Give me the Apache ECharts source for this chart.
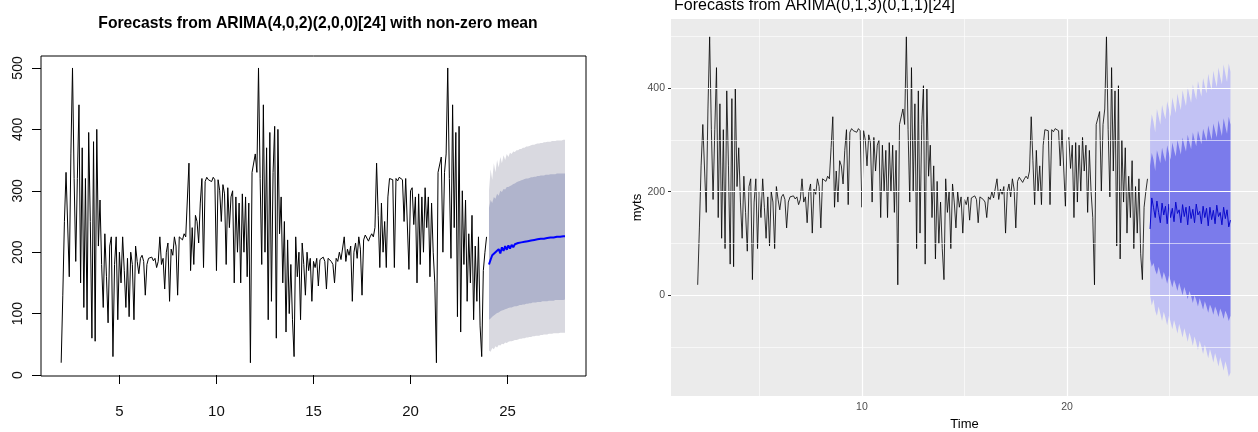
<!DOCTYPE html>
<html>
<head>
<meta charset="utf-8">
<script src="https://cdn.jsdelivr.net/npm/echarts@6/dist/echarts.min.js"></script>
<style>
  html, body { margin: 0; padding: 0; background: #fff; }
  #chart { width: 1258px; height: 432px; }
</style>
</head>
<body>
<div id="chart"></div>
<script>
// observed series, one value every 1/12, starting at t = 2
var obsStart = 2, obsStep = 1 / 12;
var obs = [
  20, 130, 250, 330, 330, 160, 360, 500, 320, 185, 320, 440,
  150, 370, 110, 320, 90, 395, 250, 60, 380, 55, 400, 210,
  285, 180, 110, 230, 160, 85, 210, 225, 30, 180, 225, 90,
  200, 150, 225, 170, 110, 190, 95, 200, 180, 90, 210, 185,
  165, 190, 195, 185, 130, 180, 190, 188, 192, 186, 190, 175,
  185, 225, 180, 190, 140, 200, 215, 120, 205, 195, 225, 210,
  130, 225, 225, 220, 230, 225, 285, 345, 170, 240, 180, 260,
  250, 215, 280, 320, 175, 315, 322, 318, 320, 315, 322, 318,
  170, 318, 300, 250, 310, 295, 180, 305, 240, 290, 300, 150,
  290, 200, 280, 150, 295, 200, 290, 160, 280, 20, 330, 330,
  360, 330, 500, 320, 180, 440, 200, 370, 90, 395, 120, 330,
  405, 60, 400, 230, 290, 150, 250, 70, 220, 100, 180, 90,
  30, 225, 160, 200, 90, 215, 180, 130, 200, 170, 190, 120,
  185, 175, 190, 145, 188, 186, 192, 185, 140, 190, 188, 185,
  180, 150, 190, 185, 200, 188, 190, 225, 185, 205, 195, 210,
  120, 200, 215, 190, 225, 205, 130, 220, 228, 225, 218, 225,
  230, 225, 240, 345, 260, 175, 280, 200, 250, 175, 290, 320,
  322, 318, 175, 320, 316, 322, 320, 318, 250, 320, 318, 172,
  300, 305, 245, 290, 150, 295, 180, 290, 200, 305, 240, 290,
  160, 280, 200, 150, 20, 330, 330, 355, 200, 330, 360, 500,
  320, 190, 440, 240, 395, 95, 405, 70, 300, 180, 285, 120,
  230, 150, 260, 90, 210, 120, 225, 80, 30, 170, 200, 225
];

// forecasts
var fcStart = 24 + 1 / 24, fcStep = 1 / 12;

// left: ARIMA(4,0,2)(2,0,0)[24] with non-zero mean
var lMean = [180, 188, 195, 192, 200, 197, 205, 198, 208, 202, 210, 204,
  211, 206, 212, 208, 213, 212, 215, 213, 216, 215, 217, 216,
  218, 218, 219, 219, 220, 220, 221, 221, 222, 222, 222, 223,
  223, 223, 224, 224, 224, 224, 225, 225, 225, 225, 226, 226];
var l80Up = [272, 285, 280, 290, 287, 295, 292, 300, 298, 303, 302, 306,
  306, 308, 309, 311, 312, 314, 315, 316, 317, 318, 319, 320,
  320, 321, 322, 322, 323, 323, 324, 324, 325, 325, 325, 326,
  326, 326, 327, 327, 327, 327, 328, 328, 328, 328, 328, 328];
var l80Lo = [90, 92, 95, 97, 99, 101, 102, 104, 105, 106, 107, 108,
  109, 110, 110, 111, 112, 112, 113, 114, 114, 115, 115, 116,
  116, 117, 117, 118, 118, 118, 119, 119, 119, 120, 120, 120,
  120, 121, 121, 121, 121, 122, 122, 122, 122, 122, 122, 123];
var l95Up = [300, 335, 318, 345, 330, 350, 338, 355, 345, 358, 350, 360,
  355, 362, 360, 364, 363, 366, 366, 368, 368, 370, 370, 372,
  372, 373, 374, 375, 375, 376, 377, 377, 378, 378, 379, 379,
  380, 380, 380, 381, 381, 381, 382, 382, 382, 382, 383, 383];
var l95Lo = [40, 38, 44, 42, 47, 45, 49, 48, 51, 50, 53, 52,
  54, 55, 55, 56, 57, 57, 58, 59, 59, 60, 60, 61,
  61, 62, 62, 63, 63, 64, 64, 64, 65, 65, 66, 66,
  66, 67, 67, 67, 68, 68, 68, 68, 69, 69, 69, 69];

// right: ARIMA(0,1,3)(0,1,1)[24]
var rMean = [128, 188, 170, 150, 182, 160, 140, 178, 155, 172, 138, 176,
  150, 168, 142, 180, 158, 165, 140, 175, 152, 170, 136, 172,
  148, 166, 140, 176, 155, 162, 138, 172, 150, 168, 134, 170,
  146, 164, 138, 174, 152, 160, 136, 170, 148, 165, 132, 145];
var r80Up = [250, 275, 262, 240, 280, 268, 255, 285, 270, 258, 290, 275,
  262, 295, 280, 268, 300, 285, 272, 305, 290, 278, 310, 295,
  282, 315, 300, 288, 318, 305, 292, 322, 310, 298, 328, 314,
  300, 332, 318, 305, 338, 322, 308, 342, 326, 312, 345, 330];
var r80Lo = [70, 55, 62, 48, 40, 55, 42, 30, 45, 35, 22, 38,
  28, 15, 30, 20, 8, 24, 12, 0, 16, 5, -8, 8,
  -2, -15, 0, -10, -22, -6, -16, -28, -12, -22, -34, -18,
  -26, -38, -22, -30, -42, -26, -34, -46, -30, -38, -50, -40];
var r95Up = [320, 350, 335, 315, 360, 345, 330, 368, 352, 340, 375, 360,
  345, 382, 366, 352, 390, 372, 358, 396, 380, 366, 402, 386,
  372, 408, 392, 378, 414, 398, 384, 420, 404, 390, 428, 410,
  396, 434, 416, 402, 440, 422, 408, 446, 428, 412, 448, 432];
var r95Lo = [0, -20, -8, -30, -40, -22, -36, -50, -32, -44, -58, -40,
  -52, -66, -48, -60, -74, -56, -68, -82, -64, -76, -90, -72,
  -84, -98, -80, -92, -106, -88, -100, -114, -96, -108, -122, -104,
  -116, -130, -112, -124, -138, -120, -132, -146, -128, -140, -158, -150];

// axis ticks
var lxTicks = [5, 10, 15, 20, 25];
var lyTicks = [0, 100, 200, 300, 400, 500];
var rxTicks = [10, 20];
var ryTicks = [0, 200, 400];
var rxMinor = [5, 15, 25];
var ryMinor = [-100, 100, 300, 500];

function pairs(start, step, arr) {
  return arr.map(function (v, i) { return [start + i * step, v]; });
}

var chart = echarts.init(document.getElementById('chart'));

// prediction band as one polygon, mapped through the axes with api.coord
function band(lo, hi, color, xi) {
  var rows = lo.map(function (v, i) { return [fcStart + i * fcStep, v, hi[i]]; });
  return {
    type: 'custom', xAxisIndex: xi, yAxisIndex: xi, silent: true, z: 2,
    encode: { x: 0, y: [1, 2] },
    data: rows,
    renderItem: function (params, api) {
      if (params.dataIndex !== 0) return null;
      var top = rows.map(function (r) { return api.coord([r[0], r[2]]); });
      var bot = rows.map(function (r) { return api.coord([r[0], r[1]]); }).reverse();
      return {
        type: 'polygon',
        shape: { points: top.concat(bot) },
        style: { fill: color, stroke: null }
      };
    }
  };
}

var leftFont = "'Liberation Sans', Arial, sans-serif";
var rightFont = "'Liberation Sans', Arial, sans-serif";

function gl(key, v, w) {
  var o = { lineStyle: { color: '#fff', width: w, type: 'solid' } };
  o[key] = v;
  return o;
}

var series = [];
// right chart grid lines
series.push({
  type: 'line', xAxisIndex: 1, yAxisIndex: 1, data: [], z: 1, silent: true,
  markLine: {
    silent: true, symbol: 'none', label: { show: false }, animation: false,
    data: []
      .concat(rxMinor.map(function (v) { return gl('xAxis', v, 0.6); }))
      .concat(ryMinor.map(function (v) { return gl('yAxis', v, 0.6); }))
      .concat(rxTicks.map(function (v) { return gl('xAxis', v, 1.2); }))
      .concat(ryTicks.map(function (v) { return gl('yAxis', v, 1.2); }))
  }
});
series.push(band(l95Lo, l95Up, '#D9D9E0', 0));
series.push(band(l80Lo, l80Up, '#B0B4CC', 0));
series.push(band(r95Lo, r95Up, '#C2C2F4', 1));
series.push(band(r80Lo, r80Up, '#7B7BEB', 1));
series.push({
  type: 'line', xAxisIndex: 0, yAxisIndex: 0, symbol: 'none', z: 4,
  lineStyle: { color: '#000', width: 1 }, data: pairs(obsStart, obsStep, obs)
});
series.push({
  type: 'line', xAxisIndex: 0, yAxisIndex: 0, symbol: 'none', z: 4,
  lineStyle: { color: '#0000FF', width: 2 }, data: pairs(fcStart, fcStep, lMean)
});
series.push({
  type: 'line', xAxisIndex: 1, yAxisIndex: 1, symbol: 'none', z: 4,
  lineStyle: { color: '#000', width: 0.8 }, data: pairs(obsStart, obsStep, obs)
});
series.push({
  type: 'line', xAxisIndex: 1, yAxisIndex: 1, symbol: 'none', z: 4,
  lineStyle: { color: '#0A0ACC', width: 1 }, data: pairs(fcStart, fcStep, rMean)
});

chart.setOption({
  animation: false,
  backgroundColor: '#fff',
  title: [{
    text: 'Forecasts from ARIMA(4,0,2)(2,0,0)[24] with non-zero mean',
    left: 313, top: 11, textAlign: 'center',
    textStyle: { fontFamily: leftFont, fontSize: 15.7, fontWeight: 'bold', color: '#000' }
  }, {
    text: 'Forecasts from ARIMA(0,1,3)(0,1,1)[24]',
    left: 669, top: -7,
    textStyle: { fontFamily: rightFont, fontSize: 16, fontWeight: 'normal', color: '#000' }
  }],
  grid: [{
    left: 41, top: 56, width: 545, height: 320, outerBoundsMode: 'none',
    show: true, borderColor: '#000', borderWidth: 1, backgroundColor: '#fff'
  }, {
    left: 671, top: 19, width: 587, height: 377, outerBoundsMode: 'none',
    show: true, borderWidth: 0, backgroundColor: '#EBEBEB'
  }],
  xAxis: [{
    type: 'value', gridIndex: 0, min: 0.96, max: 29.04,
    axisLine: { show: false }, splitLine: { show: false },
    axisTick: { show: true, customValues: lxTicks, length: 9, lineStyle: { color: '#000' } },
    axisLabel: { customValues: lxTicks, margin: 28, color: '#111', fontSize: 15, fontFamily: leftFont }
  }, {
    type: 'value', gridIndex: 1, min: 0.7, max: 29.3,
    name: 'Time', nameLocation: 'middle', nameGap: 20,
    nameTextStyle: { color: '#000', fontSize: 13, fontFamily: rightFont },
    axisLine: { show: false }, splitLine: { show: false },
    axisTick: { show: true, customValues: rxTicks, length: 3, lineStyle: { color: '#333' } },
    axisLabel: { customValues: rxTicks, margin: 6, color: '#4D4D4D', fontSize: 10.5, fontFamily: rightFont }
  }],
  yAxis: [{
    type: 'value', gridIndex: 0, min: -1.6, max: 519.5,
    axisLine: { show: false }, splitLine: { show: false },
    axisTick: { show: true, customValues: lyTicks, length: 9, lineStyle: { color: '#000' } },
    axisLabel: { customValues: lyTicks, rotate: 90, margin: 16, color: '#111', fontSize: 14, fontFamily: rightFont }
  }, {
    type: 'value', gridIndex: 1, min: -195, max: 534,
    name: 'myts', nameLocation: 'middle', nameGap: 19, nameRotate: 90,
    nameTextStyle: { color: '#000', fontSize: 13, fontFamily: rightFont },
    axisLine: { show: false }, splitLine: { show: false },
    axisTick: { show: true, customValues: ryTicks, length: 3, lineStyle: { color: '#333' } },
    axisLabel: { customValues: ryTicks, margin: 6, color: '#4D4D4D', fontSize: 10.5, fontFamily: rightFont }
  }],
  series: series
});
</script>
</body>
</html>
